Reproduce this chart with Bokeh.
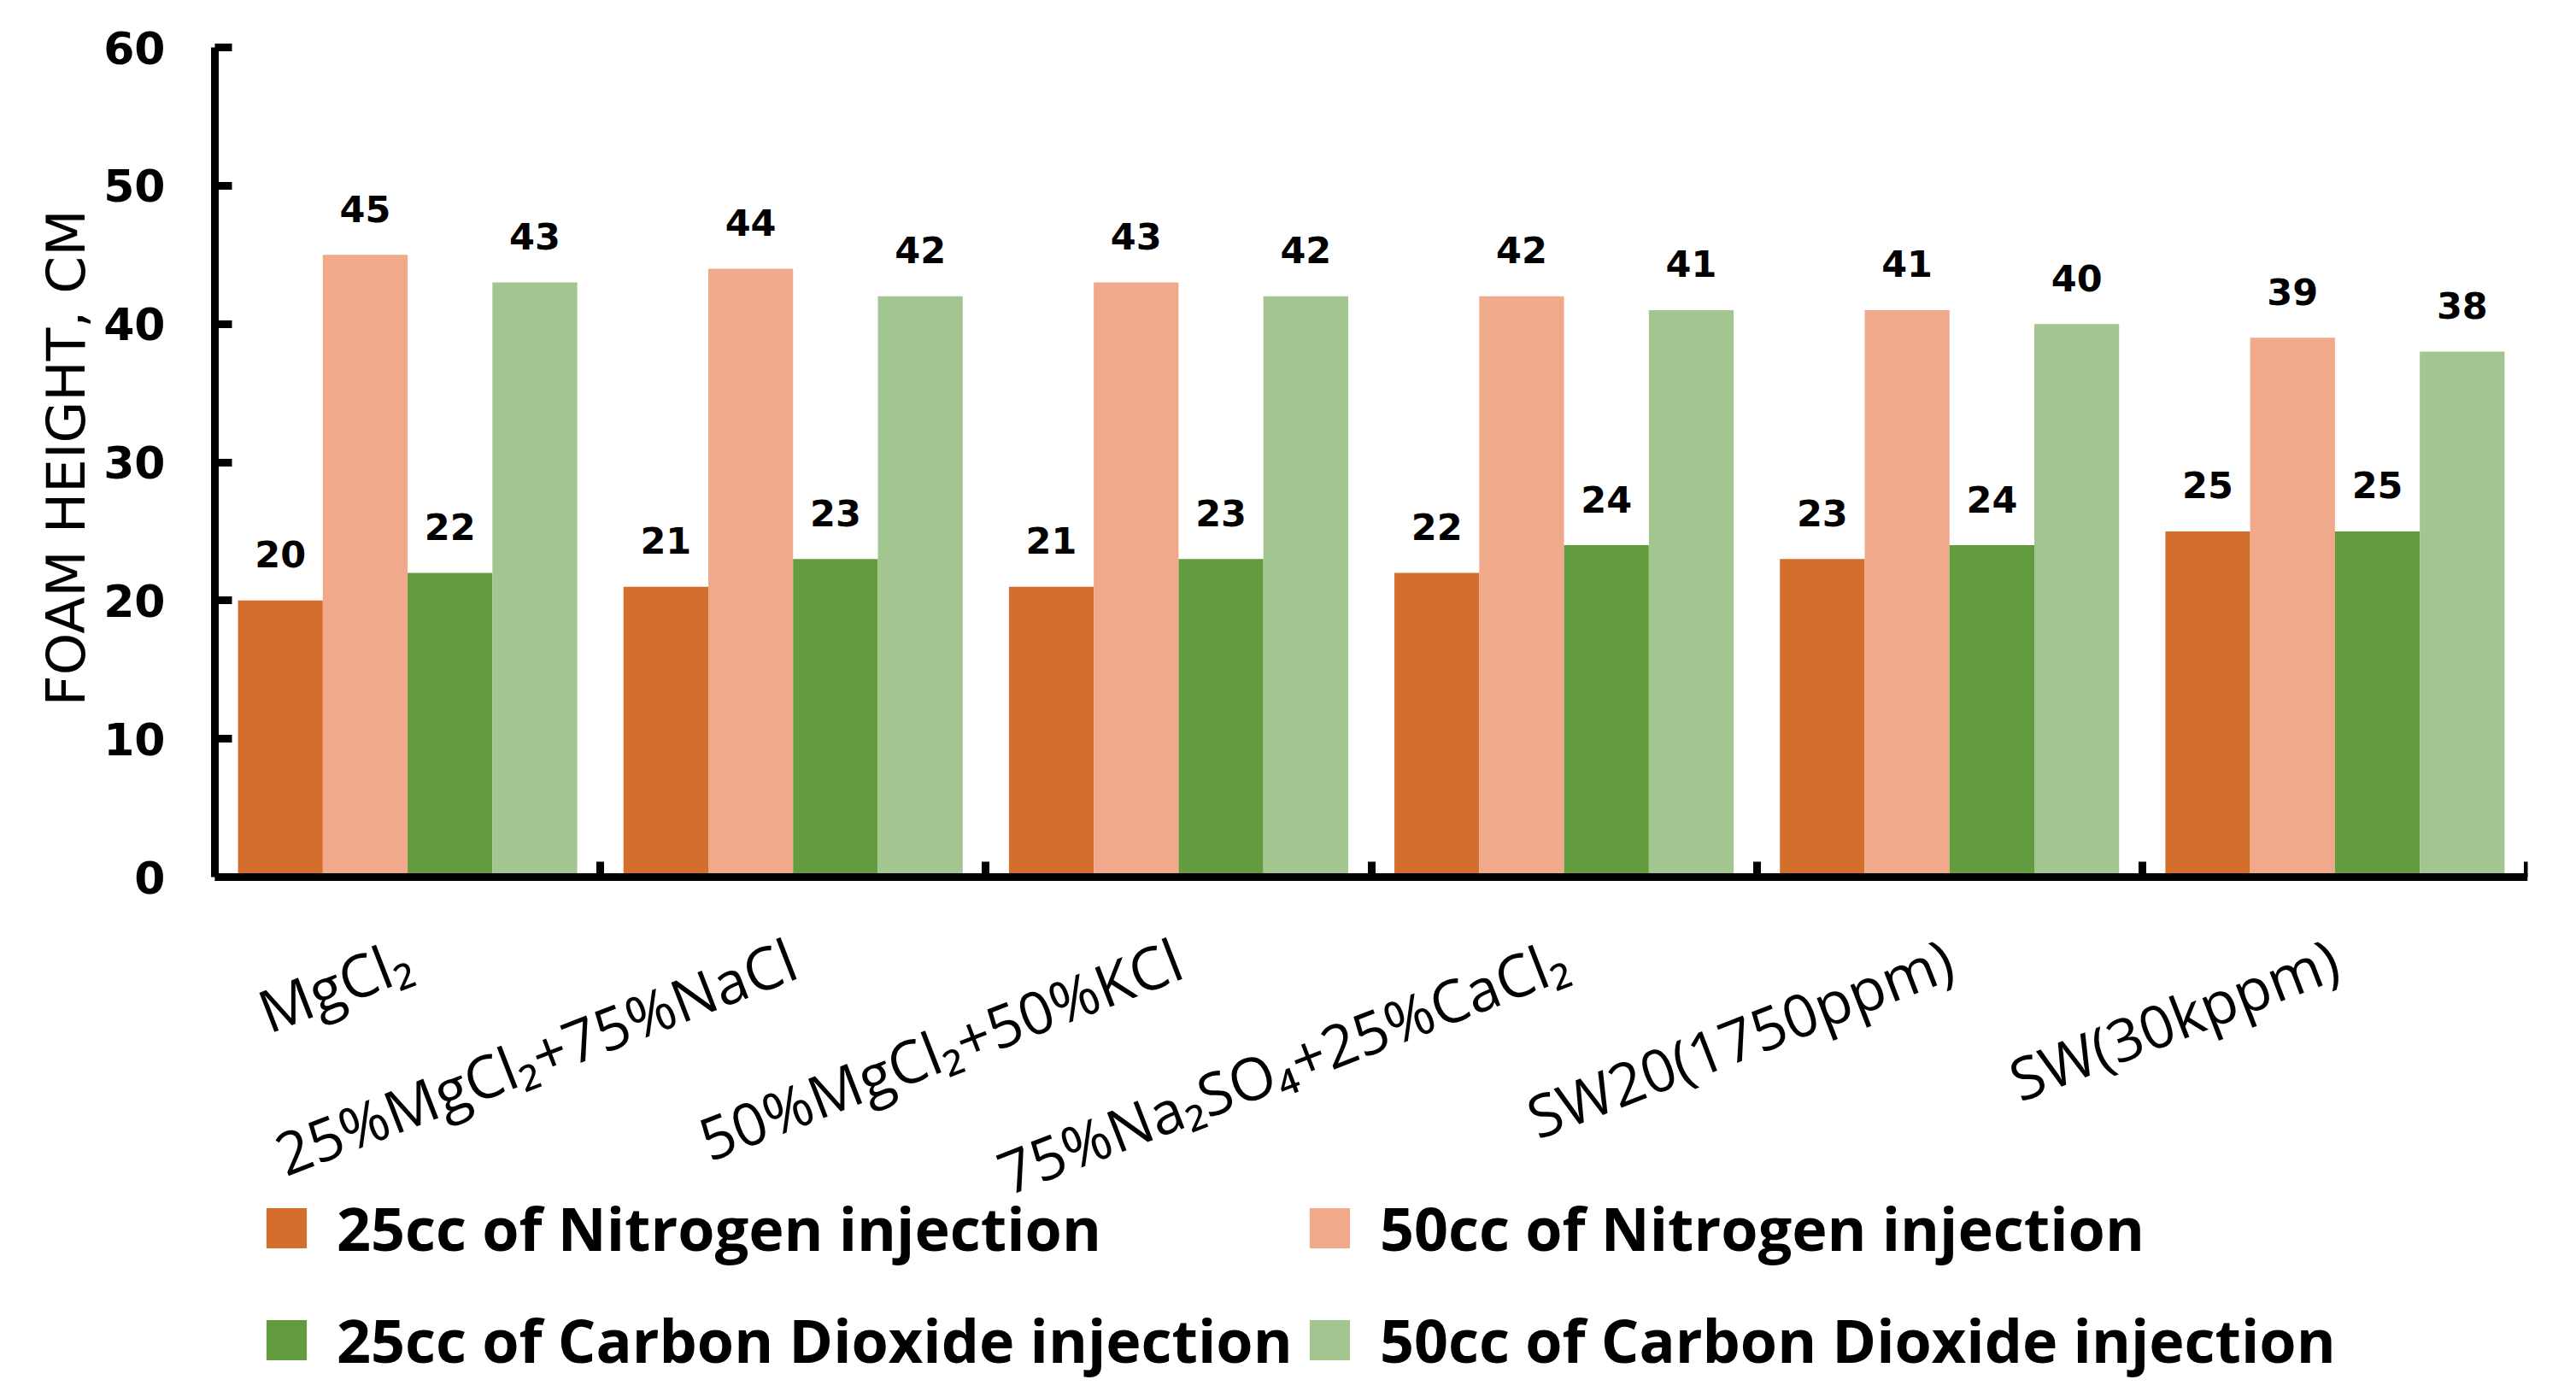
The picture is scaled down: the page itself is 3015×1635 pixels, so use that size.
import numpy as np
from bokeh.plotting import figure
from bokeh.models import ColumnDataSource, Range1d, FixedTicker, Legend, LegendItem, Title
from bokeh.transform import dodge
from bokeh.core.properties import value
from bokeh.embed import file_html
from bokeh.resources import INLINE

categories = ["MgCl₂", "25%MgCl₂+75%NaCl", "50%MgCl₂+50%KCl",
              "75%Na₂SO₄+25%CaCl₂", "SW20(1750ppm)", "SW(30kppm)"]
series_names = ["25cc of Nitrogen injection", "50cc of Nitrogen injection",
                "25cc of Carbon Dioxide injection", "50cc of Carbon Dioxide injection"]
n2_25 = [20, 21, 21, 22, 23, 25]
n2_50 = [45, 44, 43, 42, 41, 39]
co2_25 = [22, 23, 23, 24, 24, 25]
co2_50 = [43, 42, 42, 41, 40, 38]
y_ticks = [0, 10, 20, 30, 40, 50, 60]
y_title = "FOAM HEIGHT, CM"
colors = ["#D36E2D", "#F1A98B", "#639B3F", "#A3C58F"]

ncat = len(categories)
centers = [i + 0.5 for i in range(ncat)]
bounds = [i for i in range(ncat + 1)]

data = dict(x=centers, s0=n2_25, s1=n2_50, s2=co2_25, s3=co2_50)
for k in ["s0", "s1", "s2", "s3"]:
    data[k + "_lbl"] = [str(v) for v in data[k]]
src = ColumnDataSource(data)

# layout (pixels): whole figure 2999x1619, the value axis spans y=55..1026,
# the area below holds category labels and the legend.
W, H = 2999, 1619
TOP, ZERO_Y = 55, 1026
y_max = 60
y_min = -y_max * (H - ZERO_Y) / (ZERO_Y - TOP)

p = figure(width=W, height=H, x_range=Range1d(0, ncat), y_range=Range1d(y_min, y_max),
           output_backend="svg", toolbar_location=None,
           min_border_left=251, min_border_right=41, min_border_top=TOP, min_border_bottom=0)
p.grid.visible = False
p.outline_line_color = None
p.background_fill_color = "white"
p.border_fill_color = "white"

bar_w = 0.22
offsets = [-0.33, -0.11, 0.11, 0.33]
keys = ["s0", "s1", "s2", "s3"]
swatches = []
for i, k in enumerate(keys):
    p.vbar(x=dodge("x", offsets[i]), top=k, width=bar_w, source=src,
           fill_color=colors[i], line_color=None)
    p.text(x=dodge("x", offsets[i]), y=k, text=k + "_lbl", source=src,
           text_align="center", text_baseline="alphabetic", y_offset=-54,
           text_font=value("DejaVu Sans"), text_font_style="bold",
           text_font_size="43px", text_color="black")
    # zero-size markers: only used to draw square swatches in the legend
    swatches.append(p.scatter(x=dodge("x", offsets[i]), y=k, source=src, marker="square",
                              size=0, fill_color=colors[i], line_color=None))

# y axis
ya = p.yaxis[0]
ya.ticker = FixedTicker(ticks=y_ticks)
ya.bounds = (0, y_max)
ya.major_label_text_font = "DejaVu Sans"
ya.major_label_text_font_style = "bold"
ya.major_label_text_font_size = "52px"
ya.major_label_text_color = "black"
ya.major_label_standoff = 58
ya.axis_line_width = 9
ya.axis_line_color = "black"
ya.major_tick_in = 20
ya.major_tick_out = 0
ya.major_tick_line_width = 9
ya.major_tick_line_color = "black"
ya.minor_tick_line_color = None

# y axis title: starts (bottom end) at y ~ 823 px from the top
p.add_layout(Title(text=y_title, align="left", offset=H - 826,
                   text_font="DejaVu Sans", text_font_size="63px",
                   text_font_style="normal", text_color="black"), "left")

# x axis, drawn at y = 0
xa = p.xaxis[0]
xa.fixed_location = 0
xa.ticker = FixedTicker(ticks=centers, minor_ticks=bounds)
xa.major_label_overrides = {c: lab for c, lab in zip(centers, categories)}
xa.major_label_orientation = 0.37
xa.major_label_text_font = "Open Sans"
xa.major_label_text_font_size = "69px"
xa.major_label_text_color = "black"
xa.major_label_standoff = 92
xa.axis_line_width = 9
xa.axis_line_color = "black"
xa.major_tick_in = 0
xa.major_tick_out = 0
xa.major_tick_line_color = None
xa.minor_tick_in = 18
xa.minor_tick_out = 0
xa.minor_tick_line_width = 9
xa.minor_tick_line_color = "black"

def make_legend(idx, loc):
    return Legend(items=[LegendItem(label=series_names[j], renderers=[swatches[j]]) for j in idx],
                  location=loc, orientation="vertical",
                  padding=0, margin=0, spacing=13,
                  border_line_color=None, background_fill_alpha=0,
                  glyph_width=118, glyph_height=118, label_height=20,
                  label_standoff=0,
                  label_text_font="Open Sans", label_text_font_style="bold",
                  label_text_font_size="70px", label_text_color="black")

p.add_layout(make_legend([0, 2], (25, -8)), "center")
p.add_layout(make_legend([1, 3], (1246, -8)), "center")

open("out.html", "w").write(file_html(p, INLINE))
